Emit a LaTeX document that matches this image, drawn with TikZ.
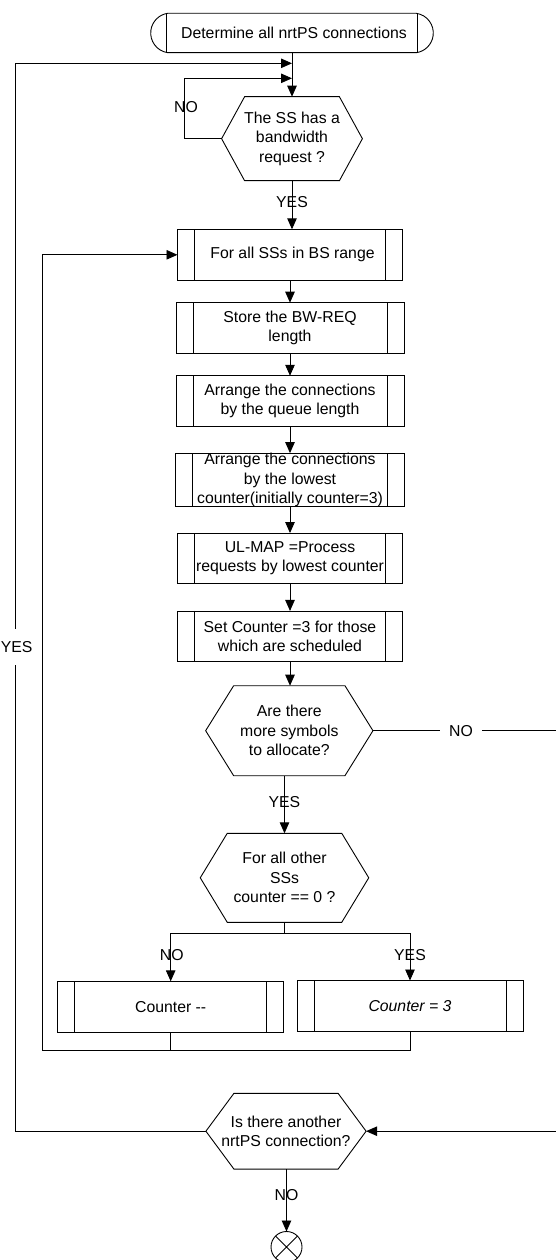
\documentclass[tikz,border=0pt]{standalone}
\usepackage{fontspec}
\setmainfont{Liberation Sans}
\usetikzlibrary{arrows.meta,shapes.misc}
\begin{document}
\begin{tikzpicture}[x=1pt,y=-1pt,
  every node/.style={font=\fontsize{15.8}{19.5}\selectfont, align=center, inner sep=0pt, outer sep=0pt},
  ln/.style={line width=0.9pt},
  arr/.style={ln, -{Triangle[length=11pt,width=9.5pt]}},
  lbl/.style={inner sep=1pt},
  proc/.style n args={2}{draw, ln, rectangle, minimum width=#1, minimum height=#2,
    path picture={\draw[ln] ([xshift=17pt]path picture bounding box.north west) -- ([xshift=17pt]path picture bounding box.south west)
      ([xshift=-17pt]path picture bounding box.north east) -- ([xshift=-17pt]path picture bounding box.south east);}},
  hexa/.style n args={3}{minimum width=#1, minimum height=#2,
    append after command={\pgfextra{\draw[ln, line join=miter] (\tikzlastnode.west) -- ([xshift=#3]\tikzlastnode.north west) -- ([xshift=-#3]\tikzlastnode.north east) -- (\tikzlastnode.east) -- ([xshift=-#3]\tikzlastnode.south east) -- ([xshift=#3]\tikzlastnode.south west) -- cycle;}}},
  termbox/.style={draw, ln, rounded rectangle, rounded rectangle arc length=163, minimum width=282.6pt, minimum height=39.4pt,
    path picture={\draw[ln] ([xshift=17pt]path picture bounding box.north west) -- ([xshift=17pt]path picture bounding box.south west)
      ([xshift=-17pt]path picture bounding box.north east) -- ([xshift=-17pt]path picture bounding box.south east);}},
  stopnode/.style={draw, ln, circle, minimum size=31pt,
    path picture={\draw[ln] (path picture bounding box.north west) -- (path picture bounding box.south east)
      (path picture bounding box.north east) -- (path picture bounding box.south west);}}
]
\useasboundingbox (0,0) rectangle (556,1260);

% nodes
\node[termbox] (term) at (292,33) {\hspace*{4pt}Determine all nrtPS connections};
\node[hexa={140.8pt}{84pt}{23pt}] (h1) at (292,138.7) {The SS has a\\bandwidth\\request ?};
\node[proc={225pt}{51pt}] (b1) at (290,254.8) {\hspace*{5pt}For all SSs in BS range};
\node[proc={228pt}{50.6pt}] (b2) at (290,328) {Store the BW-REQ\\length};
\node[proc={228pt}{50.3pt}] (b3) at (290,400.9) {Arrange the connections\\by the queue length};
\node[proc={229pt}{53.4pt}] (b4) at (290,480) {Arrange the connections\\by the lowest\\counter(initially counter=3)};
\node[proc={225pt}{50.3pt}] (b5) at (290,558.2) {UL-MAP =Process\\requests by lowest counter};
\node[proc={225pt}{50.7pt}] (b6) at (290,636.3) {Set Counter =3 for those\\which are scheduled};
\node[hexa={167.3pt}{90pt}{28pt}] (h2) at (289.3,730.7) {Are there\\more symbols\\to allocate?};
\node[hexa={168.5pt}{89pt}{27pt}] (h3) at (284.5,877.8) {For all other\\SSs\\counter == 0 ?};
\node[proc={226pt}{51pt}] (cm) at (170.7,1006.8) {Counter {-}{-}};
\node[proc={226pt}{51pt}] (c3) at (410,1006) {\itshape Counter = 3};
\node[hexa={160.2pt}{75.7pt}{28pt}] (h4) at (286,1131.2) {Is there another\\nrtPS connection?};
\node[stopnode] (stop) at (286.5,1247) {};

% helper coordinates
\coordinate (lt) at (15.6,63.3);
\coordinate (j1) at (292,63.3);
\coordinate (nl) at (184.5,78.3);
\coordinate (j2) at (292,78.3);
\coordinate (sp) at (284.5,933.3);
\coordinate (ml) at (42.9,1050);
\coordinate (mm) at (170.7,1050);
\coordinate (rt) at (562,730.7);

% connectors
\draw[arr] (term.south) -- (h1.north);
\draw[arr] (h4.west) -| (lt) -- (j1);
\draw[arr] (h1.west) -| (nl) -- (j2);
\draw[arr] (h1.south) -- (h1.south |- b1.north);
\draw[arr] (b1.south) -- (b2.north);
\draw[arr] (b2.south) -- (b3.north);
\draw[arr] (b3.south) -- (b4.north);
\draw[arr] (b4.south) -- (b5.north);
\draw[arr] (b5.south) -- (b6.north);
\draw[arr] (b6.south) -- (b6.south |- h2.north);
\draw[arr] (h3.north |- h2.south) -- (h3.north);
\draw[ln] (h3.south) -- (sp);
\draw[arr] (sp) -| (cm.north);
\draw[arr] (sp) -| (c3.north);
\draw[arr] (cm.south) |- (ml) |- (b1.west);
\draw[ln] (c3.south) |- (mm);
\draw[arr] (h2.east) -- (rt) |- (h4.east);
\draw[arr] (stop.north |- h4.south) -- (stop.north);

% labels
\node[lbl] (lno1) at (186,107) {NO};
\node[lbl] (lyes1) at (292,202) {YES};
\node[lbl, fill=white, minimum height=36pt] (lyes2) at (16.7,647) {YES};
\node[lbl, fill=white, minimum width=42pt] (lno2) at (461,730.7) {NO};
\node[lbl] (lyes3) at (284.4,801.7) {YES};
\node[lbl] (lno3) at (171.7,955) {NO};
\node[lbl] (lyes4) at (410,955) {YES};
\node[lbl] (lno4) at (286.5,1195) {NO};
\end{tikzpicture}
\end{document}
